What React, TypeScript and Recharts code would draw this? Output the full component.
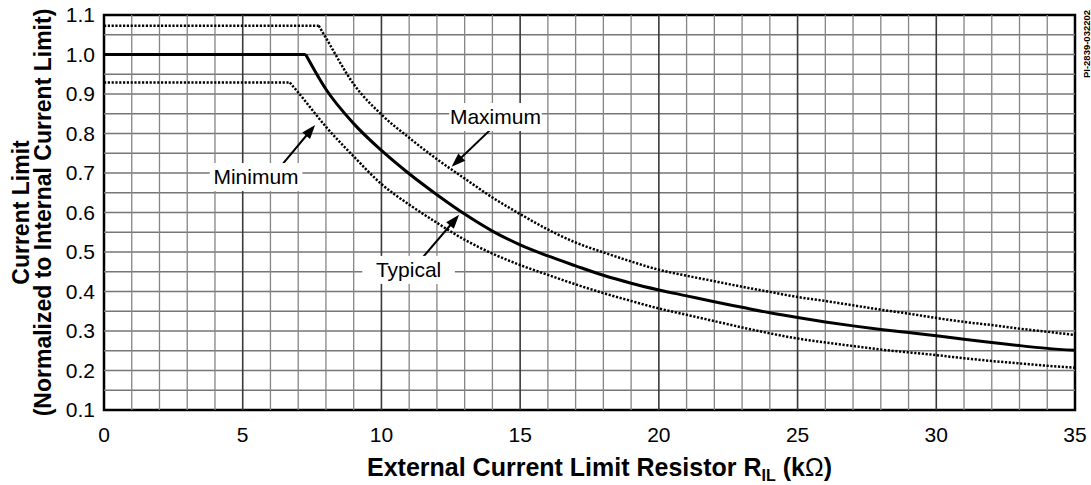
import React from 'react'
import { LineChart, Line, XAxis, YAxis, ReferenceLine, ReferenceArea, ReferenceDot, Label } from 'recharts'

const FONT = '"Liberation Sans", Arial, Helvetica, sans-serif'

// Typical curve
const typicalX = [0, 7.27, 8, 9, 10, 11, 12, 13, 14, 15, 16, 17, 18, 19, 20, 21, 22, 23, 24, 25, 26, 27, 28, 29, 30, 31, 32, 33, 34, 35]
const typicalY = [1.0, 1.0, 0.912, 0.825, 0.757, 0.698, 0.645, 0.596, 0.553, 0.518, 0.49, 0.465, 0.441, 0.421, 0.404, 0.389, 0.374, 0.36, 0.346, 0.334, 0.323, 0.313, 0.304, 0.296, 0.288, 0.279, 0.271, 0.263, 0.256, 0.251]

// Maximum curve
const maximumX = [0, 7.74, 8, 9, 10, 11, 12, 13, 14, 15, 16, 17, 18, 19, 20, 21, 22, 23, 24, 25, 26, 27, 28, 29, 30, 31, 32, 33, 34, 35]
const maximumY = [1.073, 1.073, 1.042, 0.925, 0.848, 0.789, 0.735, 0.686, 0.638, 0.596, 0.557, 0.524, 0.499, 0.476, 0.455, 0.44, 0.426, 0.412, 0.399, 0.386, 0.376, 0.365, 0.354, 0.344, 0.333, 0.323, 0.315, 0.306, 0.298, 0.29]

// Minimum curve
const minimumX = [0, 6.7, 7, 8, 9, 10, 11, 12, 13, 14, 15, 16, 17, 18, 19, 20, 21, 22, 23, 24, 25, 26, 27, 28, 29, 30, 31, 32, 33, 34, 35]
const minimumY = [0.929, 0.929, 0.904, 0.817, 0.742, 0.672, 0.62, 0.574, 0.531, 0.496, 0.467, 0.442, 0.418, 0.396, 0.376, 0.357, 0.341, 0.325, 0.309, 0.294, 0.281, 0.271, 0.262, 0.253, 0.246, 0.239, 0.231, 0.224, 0.218, 0.212, 0.207]

const xTicks = [0, 5, 10, 15, 20, 25, 30, 35]
const yTicks = [0.1, 0.2, 0.3, 0.4, 0.5, 0.6, 0.7, 0.8, 0.9, 1.0, 1.1]
const gridX = [1, 2, 3, 4, 5, 6, 7, 8, 9, 10, 11, 12, 13, 14, 15, 16, 17, 18, 19, 20, 21, 22, 23, 24, 25, 26, 27, 28, 29, 30, 31, 32, 33, 34]
const gridY = [0.15, 0.2, 0.25, 0.3, 0.35, 0.4, 0.45, 0.5, 0.55, 0.6, 0.65, 0.7, 0.75, 0.8, 0.85, 0.9, 0.95, 1.0, 1.05]

// callouts: label text position (baseline centre) and arrow from -> tip
const calloutText = ['Minimum', 'Maximum', 'Typical']
const calloutX = [5.48, 14.11, 10.98]
const calloutY = [0.672, 0.824, 0.437]
const arrowFromX = [6.34, 13.98, 11.51]
const arrowFromY = [0.714, 0.813, 0.488]
const arrowToX = [7.61, 12.53, 12.8]
const arrowToY = [0.8215, 0.716, 0.594]

const toPoints = (xs: number[], ys: number[]) => xs.map((x, i) => ({ x, y: ys[i] }))
// flat part (first two points) drawn straight, the falling part drawn smooth
const series = [
  { name: 'max', data: toPoints(maximumX, maximumY), dash: '2.2 1.6', width: 2.5 },
  { name: 'min', data: toPoints(minimumX, minimumY), dash: '2.2 1.6', width: 2.5 },
  { name: 'typ', data: toPoints(typicalX, typicalY), dash: undefined, width: 3 },
]

const Arrow = (props: any) => {
  const { x1, y1, x2, y2 } = props
  const dx = x2 - x1
  const dy = y2 - y1
  const len = Math.hypot(dx, dy) || 1
  const ux = dx / len
  const uy = dy / len
  const hl = 14
  const hw = 5
  const bx = x2 - ux * hl
  const by = y2 - uy * hl
  return (
    <g>
      <line x1={x1} y1={y1} x2={bx + ux * 2} y2={by + uy * 2} stroke="#000" strokeWidth={2} />
      <polygon points={`${x2},${y2} ${bx - uy * hw},${by + ux * hw} ${bx + uy * hw},${by - ux * hw}`} fill="#000" />
    </g>
  )
}

const calloutShape = (text: string) => (props: any) => {
  const { cx, cy } = props
  const w = text.length * 11.8 + 10
  return (
    <g>
      <rect x={cx - w / 2} y={cy - 21} width={w} height={28} fill="#fff" />
      <text x={cx} y={cy} textAnchor="middle" fontFamily={FONT} fontSize={21} fill="#000">
        {text}
      </text>
    </g>
  )
}

const tagShape = (props: any) => {
  const { cx, cy } = props
  return (
    <text
      x={cx + 15}
      y={cy + 29}
      transform={`rotate(-90 ${cx + 15} ${cy + 29})`}
      textAnchor="middle"
      fontFamily={FONT}
      fontSize={9.5}
      fontWeight="bold"
      fill="#000"
    >
      PI-2839-032202
    </text>
  )
}

const XTitle = (props: any) => {
  const { viewBox } = props
  const cx = viewBox.x + viewBox.width / 2 + 10
  return (
    <text x={cx} y={viewBox.y + 66} textAnchor="middle" fontFamily={FONT} fontSize={25} fontWeight="bold" fill="#000">
      External Current Limit Resistor R
      <tspan fontSize={16} dy={5}>IL</tspan>
      <tspan dy={-5}> (k</tspan>
      <tspan fontWeight="normal">Ω</tspan>
      <tspan>)</tspan>
    </text>
  )
}

const YTitle = (props: any) => {
  const { viewBox } = props
  const cy = viewBox.y + viewBox.height / 2
  return (
    <g fontFamily={FONT} fontSize={23} fontWeight="bold" fill="#000">
      <text x={29} y={cy} transform={`rotate(-90 29 ${cy})`} textAnchor="middle">
        Current Limit
      </text>
      <text x={51} y={cy} transform={`rotate(-90 51 ${cy})`} textAnchor="middle">
        (Normalized to Internal Current Limit)
      </text>
    </g>
  )
}

export default function App() {
  return (
    <div style={{ position: 'absolute', left: 0, top: 0, background: '#fff' }}>
      <LineChart width={1091} height={485} margin={{ top: 15, right: 16, bottom: 0, left: 0 }}>
        <XAxis
          dataKey="x"
          type="number"
          domain={[0, 35]}
          ticks={xTicks}
          allowDataOverflow
          axisLine={false}
          tickLine={false}
          tickSize={0}
          tickMargin={17}
          height={75}
          tick={{ fontFamily: FONT, fontSize: 21, fill: '#000' }}
        >
          <Label content={XTitle} />
        </XAxis>
        <YAxis
          dataKey="y"
          type="number"
          domain={[0.1, 1.1]}
          ticks={yTicks}
          allowDataOverflow
          axisLine={false}
          tickLine={false}
          tickSize={0}
          tickMargin={9}
          width={104}
          tickFormatter={(v: number) => v.toFixed(1)}
          tick={{ fontFamily: FONT, fontSize: 21, fill: '#000' }}
        >
          <Label content={YTitle} />
        </YAxis>

        {gridY.map((v) => (
          <ReferenceLine key={'gy' + v} y={v} stroke="#767676" strokeWidth={1.3} />
        ))}
        {gridX.map((v) => (
          <ReferenceLine
            key={'gx' + v}
            x={v}
            stroke={v % 5 === 0 ? '#3a3a3a' : '#858585'}
            strokeWidth={v % 5 === 0 ? 1.6 : 1.3}
          />
        ))}

        {series.map((s) => (
          <Line
            key={s.name + '-flat'}
            data={s.data.slice(0, 2)}
            dataKey="y"
            type="linear"
            stroke="#000"
            strokeWidth={s.width}
            strokeDasharray={s.dash}
            dot={false}
            activeDot={false}
            isAnimationActive={false}
          />
        ))}
        {series.map((s) => (
          <Line
            key={s.name + '-curve'}
            data={s.data.slice(1)}
            dataKey="y"
            type="monotone"
            stroke="#000"
            strokeWidth={s.width}
            strokeDasharray={s.dash}
            dot={false}
            activeDot={false}
            isAnimationActive={false}
          />
        ))}

        {calloutText.map((t, i) => (
          <ReferenceDot key={'c' + t} x={calloutX[i]} y={calloutY[i]} r={0} shape={calloutShape(t)} />
        ))}
        {calloutText.map((t, i) => (
          <ReferenceLine
            key={'a' + t}
            segment={[
              { x: arrowFromX[i], y: arrowFromY[i] },
              { x: arrowToX[i], y: arrowToY[i] },
            ]}
            shape={Arrow}
          />
        ))}

        <ReferenceArea x1={0} x2={35} y1={0.1} y2={1.1} fill="none" fillOpacity={0} stroke="#000" strokeWidth={2.5} />
        <ReferenceDot x={35} y={1.1} r={0} shape={tagShape} />
      </LineChart>
    </div>
  )
}
